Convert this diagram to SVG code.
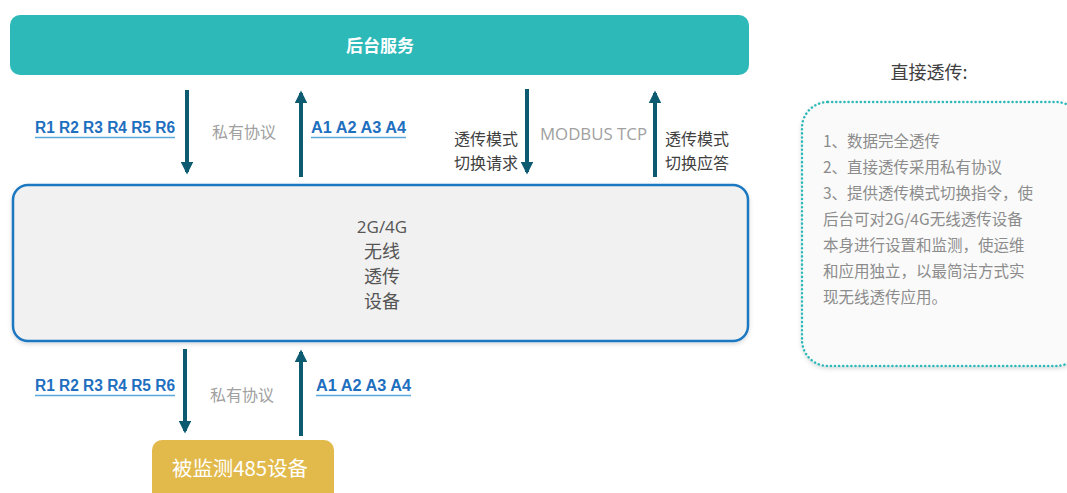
<svg xmlns="http://www.w3.org/2000/svg" width="1067" height="493" viewBox="0 0 1067 493">
<defs>
<style>
.cjk{font-family:"Noto Sans CJK SC","Noto Sans",sans-serif}
.lbl{font-family:"Liberation Sans","Noto Sans CJK SC",sans-serif;font-weight:bold;font-size:16px;fill:#1F6FBF}
.gray{font-family:"Noto Sans CJK SC","Noto Sans",sans-serif;font-size:16px;fill:#A0A0A0}
.dark{font-family:"Noto Sans CJK SC","Noto Sans",sans-serif;font-size:16px;fill:#404040}
.ul{stroke:#5AA7DB;stroke-width:1.5}
.arrow{stroke:#0D5B70;stroke-width:4;fill:none}
.note{font-family:"Noto Sans CJK SC","Noto Sans",sans-serif;font-size:15.5px;fill:#8C8C8C}
</style>
<marker id="ah" viewBox="0 0 10 10" refX="8" refY="5" markerWidth="3.2" markerHeight="3.2" orient="auto" markerUnits="strokeWidth">
<path d="M0,0 L10,5 L0,10 Z" fill="#0D5B70"/>
</marker>
<filter id="sh" x="-10%" y="-10%" width="120%" height="130%">
<feDropShadow dx="0" dy="2" stdDeviation="2" flood-color="#000" flood-opacity="0.15"/>
</filter>
</defs>
<rect width="1067" height="493" fill="#FFFFFF"/>

<g id="backend">
<rect x="10" y="15" width="739" height="60" rx="10" fill="#2EB9B9"/>
<text x="380" y="52" text-anchor="middle" class="cjk" font-size="17" font-weight="bold" fill="#FFFFFF">后台服务</text>
</g>

<g id="device">
<rect x="13" y="185" width="735" height="156" rx="15" fill="#F1F1F1" stroke="#1F78C1" stroke-width="2.5" filter="url(#sh)"/>
<text x="382" y="233" text-anchor="middle" font-family="'Open Sans','Noto Sans',sans-serif" font-size="17" fill="#555555">2G/4G</text>
<text x="382" y="258" text-anchor="middle" class="cjk" font-size="18" fill="#555555">无线</text>
<text x="382" y="283" text-anchor="middle" class="cjk" font-size="18" fill="#555555">透传</text>
<text x="382" y="308" text-anchor="middle" class="cjk" font-size="18" fill="#555555">设备</text>
</g>

<g id="monitored">
<rect x="152" y="440" width="182" height="70" rx="10" fill="#E2BA4B"/>
<text x="240" y="476" text-anchor="middle" class="cjk" font-size="20" fill="#FFFFFF" textLength="136" lengthAdjust="spacingAndGlyphs">被监测485设备</text>
</g>

<g id="connectors">
<line class="arrow" x1="187" y1="90" x2="187" y2="172" marker-end="url(#ah)"/>
<line class="arrow" x1="301" y1="177" x2="301" y2="93" marker-end="url(#ah)"/>
<line class="arrow" x1="527" y1="89" x2="527" y2="172" marker-end="url(#ah)"/>
<line class="arrow" x1="655" y1="177" x2="655" y2="93" marker-end="url(#ah)"/>
<line class="arrow" x1="185" y1="349" x2="185" y2="431" marker-end="url(#ah)"/>
<line class="arrow" x1="301" y1="436" x2="301" y2="352" marker-end="url(#ah)"/>
</g>

<g id="labels">
<text x="35" y="133" class="lbl" textLength="140" lengthAdjust="spacingAndGlyphs">R1 R2 R3 R4 R5 R6</text>
<line class="ul" x1="35" y1="137.5" x2="175" y2="137.5"/>
<text x="212" y="138" class="gray">私有协议</text>
<text x="311" y="133" class="lbl" textLength="95" lengthAdjust="spacingAndGlyphs">A1 A2 A3 A4</text>
<line class="ul" x1="311" y1="137.5" x2="406" y2="137.5"/>
<text x="518" y="145" text-anchor="end" class="dark">透传模式</text>
<text x="518" y="169" text-anchor="end" class="dark">切换请求</text>
<text x="540" y="140" font-family="'Open Sans','Noto Sans',sans-serif" font-size="16" fill="#A0A0A0" textLength="107" lengthAdjust="spacingAndGlyphs">MODBUS TCP</text>
<text x="665" y="145" class="dark">透传模式</text>
<text x="665" y="169" class="dark">切换应答</text>

<text x="35" y="391" class="lbl" textLength="140" lengthAdjust="spacingAndGlyphs">R1 R2 R3 R4 R5 R6</text>
<line class="ul" x1="35" y1="395.5" x2="175" y2="395.5"/>
<text x="210" y="401" class="gray">私有协议</text>
<text x="316" y="391" class="lbl" textLength="95" lengthAdjust="spacingAndGlyphs">A1 A2 A3 A4</text>
<line class="ul" x1="316" y1="395.5" x2="411" y2="395.5"/>
</g>

<g id="notes">
<text x="929" y="79" text-anchor="middle" class="cjk" font-size="18" fill="#404040">直接透传:</text>
<rect x="802" y="102" width="280" height="264" rx="26" fill="#FAFAFA" stroke="#2EB9B9" stroke-width="2.5" stroke-dasharray="0.1 4" stroke-linecap="round" filter="url(#sh)"/>
<text x="823" y="147" class="note">1、数据完全透传</text>
<text x="823" y="173" class="note">2、直接透传采用私有协议</text>
<text x="823" y="199" class="note">3、提供透传模式切换指令，使</text>
<text x="823" y="225" class="note">后台可对2G/4G无线透传设备</text>
<text x="823" y="251" class="note">本身进行设置和监测，使运维</text>
<text x="823" y="277" class="note">和应用独立，以最简洁方式实</text>
<text x="823" y="303" class="note">现无线透传应用。</text>
</g>
</svg>
